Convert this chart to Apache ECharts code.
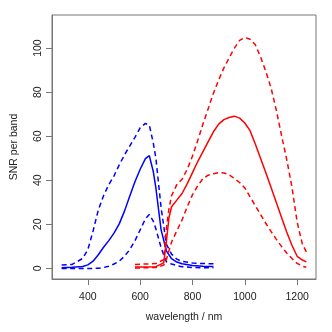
<!DOCTYPE html>
<html>
<head>
<meta charset="utf-8">
<script src="https://cdn.jsdelivr.net/npm/echarts@6/dist/echarts.min.js"></script>
<style>
  html, body { margin: 0; padding: 0; background: #fff; }
  #chart { width: 332px; height: 332px; }
</style>
</head>
<body>
<div id="chart"></div>
<script>
// blue band (visible)
const blueWl = [300, 340, 380, 400, 420, 440, 460, 480, 500, 520, 540, 560, 580, 600, 620, 635, 650, 660, 680, 700, 720, 740, 760, 800, 840, 880]
const blueMid = [0.3, 0.5, 0.9, 1.6, 3.3, 6.2, 9.6, 12.6, 16, 20.2, 26, 32.8, 39.3, 45, 49.8, 51.2, 44, 36.5, 17.5, 8, 4.4, 2.9, 2.1, 1.3, 1, 0.9]
const blueHi = [1.5, 1.8, 4.5, 8.5, 17, 26.5, 33, 38, 42, 47, 51.5, 55.5, 59.5, 63.8, 65.8, 65, 57, 50, 27.6, 11, 6.5, 4.2, 3.2, 2.5, 2.2, 2.1]
const blueLo = [0, 0, 0, 0, 0, 0.1, 0.4, 1, 2, 3.3, 5.5, 8.5, 12.5, 17.5, 22.5, 24.5, 21.5, 18, 9.4, 3, 2, 1.3, 0.8, 0.4, 0.3, 0.3]

// red band (near infrared)
const redWl = [580, 620, 660, 690, 700, 710, 720, 740, 760, 780, 800, 820, 840, 860, 880, 900, 920, 940, 960, 980, 1000, 1020, 1040, 1060, 1080, 1100, 1120, 1140, 1160, 1180, 1200, 1220, 1235]
const redMid = [0.6, 0.7, 0.8, 2.5, 12, 23, 28, 31, 34, 38.5, 43.5, 48.5, 53, 57.5, 62, 65.5, 67.5, 68.5, 69.1, 68.2, 66, 62.5, 56.5, 50, 43.5, 36.8, 30, 23.2, 16.5, 10.5, 5.5, 3.8, 3]
const redHi = [1.8, 2, 2.2, 4, 18, 27, 33, 38, 40.5, 45, 51, 58, 65.5, 72.5, 79.5, 85.5, 91, 95.5, 100, 103.5, 104.8, 104, 101.5, 96, 89.5, 82, 72, 60.5, 49.5, 37, 21, 11, 7.5]
const redLo = [0.2, 0.3, 0.4, 1.5, 4, 8, 12, 17, 22, 28, 33.5, 37.5, 40.8, 42.3, 43, 43.5, 43.3, 42.5, 40.8, 39, 36.5, 32.5, 28.5, 24.5, 20.5, 16.8, 13.3, 10, 7, 4.5, 2.3, 1, 0.5]

const xTicks = [400, 600, 800, 1000, 1200]
const yTicks = [0, 20, 40, 60, 80, 100]

const pairs = (xs, ys) => xs.map((x, i) => [x, ys[i]])

const line = (name, xs, ys, color, dashed) => ({
  name,
  type: 'line',
  data: pairs(xs, ys),
  showSymbol: false,
  animation: false,
  lineStyle: {
    color,
    width: 1.5,
    type: dashed ? [5, 3.5] : 'solid'
  }
})

const chart = echarts.init(document.getElementById('chart'))

const font = 'Liberation Sans, Arial, sans-serif'

const tickStyle = {
  show: true,
  inside: false,
  length: 6,
  lineStyle: { color: '#777', width: 1 }
}

chart.setOption({
  backgroundColor: '#fff',
  animation: false,
  grid: {
    left: 52,
    right: 16,
    top: 15,
    bottom: 53,
    show: true,
    borderColor: '#777',
    borderWidth: 1,
    backgroundColor: 'transparent'
  },
  xAxis: {
    type: 'value',
    min: 263,
    max: 1272,
    position: 'bottom',
    name: 'wavelength / nm',
    nameLocation: 'middle',
    nameGap: 33,
    nameTextStyle: { color: '#222', fontSize: 10.5, fontFamily: font },
    axisLine: { show: true, onZero: false, lineStyle: { color: '#777', width: 1 } },
    splitLine: { show: false },
    axisTick: { ...tickStyle, customValues: xTicks },
    axisLabel: {
      customValues: xTicks,
      formatter: v => String(v),
      color: '#222',
      fontSize: 10.5,
      fontFamily: font,
      margin: 13
    }
  },
  yAxis: {
    type: 'value',
    min: -4.8,
    max: 115,
    position: 'left',
    name: 'SNR per band',
    nameLocation: 'middle',
    nameGap: 32,
    nameTextStyle: { color: '#222', fontSize: 10.5, fontFamily: font },
    axisLine: { show: true, onZero: false, lineStyle: { color: '#777', width: 1 } },
    splitLine: { show: false },
    axisTick: { ...tickStyle, customValues: yTicks },
    axisLabel: {
      customValues: yTicks,
      formatter: v => String(v),
      rotate: 90,
      color: '#222',
      fontSize: 10.5,
      fontFamily: font,
      margin: 8
    }
  },
  series: [
    line('blue', blueWl, blueMid, '#0000ff', false),
    line('blue upper', blueWl, blueHi, '#0000ff', true),
    line('blue lower', blueWl, blueLo, '#0000ff', true),
    line('red', redWl, redMid, '#ff0000', false),
    line('red upper', redWl, redHi, '#ff0000', true),
    line('red lower', redWl, redLo, '#ff0000', true)
  ]
})
</script>
</body>
</html>
